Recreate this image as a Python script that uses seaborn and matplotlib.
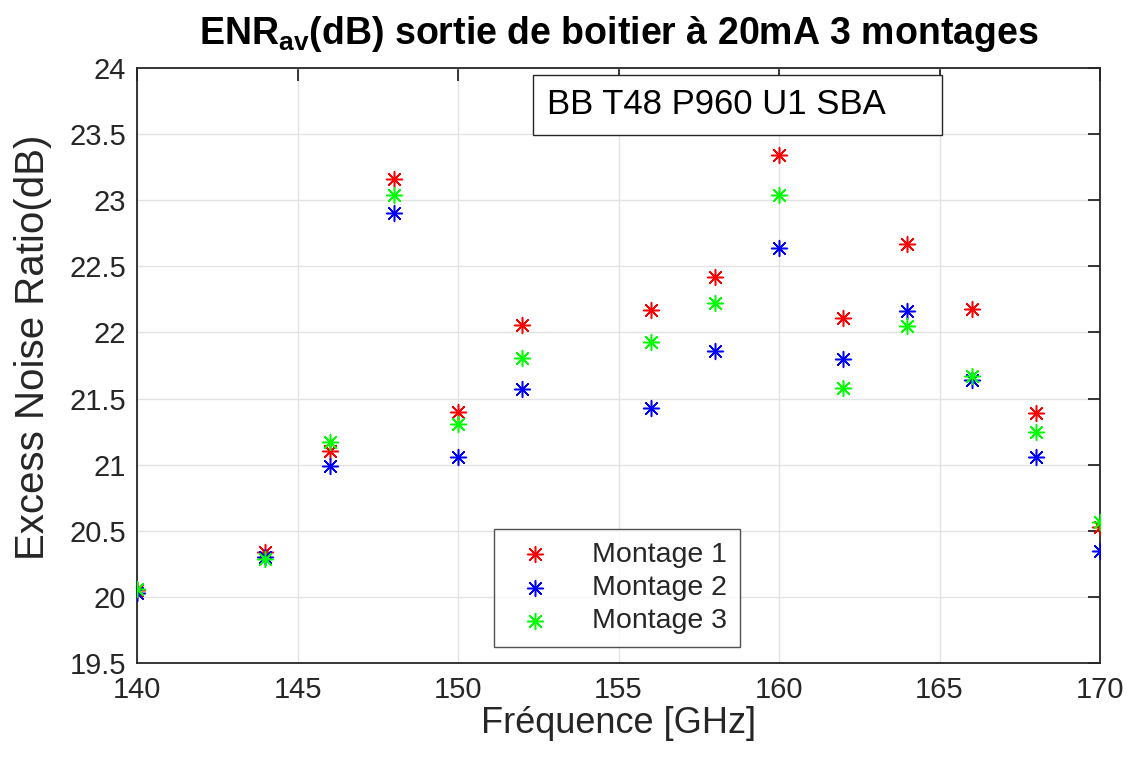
import numpy as np
import pandas as pd
import matplotlib
matplotlib.use('Agg')
import matplotlib.pyplot as plt
from matplotlib.patches import Rectangle
import seaborn as sns

# frequencies (GHz)
freq = [140, 144, 146, 148, 150, 152, 156, 158, 160, 162, 164, 166, 168, 170]
# ENR av (dB) per montage
montage1 = [20.05, 20.34, 21.10, 23.16, 21.40, 22.06, 22.17, 22.42, 23.34, 22.11, 22.67, 22.18, 21.39, 20.53]
montage2 = [20.03, 20.30, 20.99, 22.90, 21.06, 21.57, 21.43, 21.86, 22.64, 21.80, 22.16, 21.64, 21.06, 20.35]
montage3 = [20.06, 20.29, 21.17, 23.04, 21.31, 21.81, 21.93, 22.22, 23.04, 21.58, 22.05, 21.67, 21.25, 20.57]
labels = ['Montage 1', 'Montage 2', 'Montage 3']
colors = ['#ff0000', '#0000ff', '#00ff00']

df = pd.DataFrame({'freq': freq * 3,
                   'enr': montage1 + montage2 + montage3,
                   'montage': [l for l in labels for _ in freq]})

sns.set_style('white')
plt.rcParams['font.family'] = ['Liberation Sans', 'DejaVu Sans']
plt.rcParams['mathtext.fontset'] = 'custom'
plt.rcParams['mathtext.rm'] = 'Liberation Sans:bold'
plt.rcParams['mathtext.bf'] = 'Liberation Sans:bold'

fig = plt.figure(figsize=(11.33, 7.57), dpi=100)
ax = fig.add_axes([137/1133, 1 - 663/757, 963/1133, 595/757])

ast = (8, 2, 0)
for lab, col in zip(labels, colors):
    sub = df[df['montage'] == lab]
    sns.scatterplot(data=sub, x='freq', y='enr', ax=ax, marker=ast, s=130,
                    color=col, edgecolor=col, linewidth=1.1, label=lab, zorder=3)

ax.set_xlim(140, 170)
ax.set_ylim(19.5, 24)
ax.set_xticks(np.arange(140, 171, 5))
ax.set_yticks(np.arange(19.5, 24.01, 0.5))
ax.set_yticklabels(['19.5', '20', '20.5', '21', '21.5', '22', '22.5', '23', '23.5', '24'])
ax.grid(True, color='#e3e3e3', linewidth=1)
ax.set_axisbelow(True)
for s in ax.spines.values():
    s.set_color('#262626')
    s.set_linewidth(1.3)
ax.tick_params(axis='both', direction='in', length=9, width=1.3, top=True, right=True,
               labelsize=21, colors='#262626')
ax.tick_params(axis='x', pad=9)
ax.tick_params(axis='y', pad=8)

ax.set_xlabel('Fréquence [GHz]', fontsize=26, color='#262626', labelpad=2)
ax.set_ylabel('Excess Noise Ratio(dB)', fontsize=29, color='#262626', labelpad=4)
ax.yaxis.set_label_coords(-0.088, 0.53)
ax.set_title(r'ENR$_{\mathrm{av}}$(dB) sortie de boitier à 20mA 3 montages',
             fontsize=27, fontweight='bold', color='black', pad=17)

leg = ax.legend(loc='lower center', bbox_to_anchor=(0.498, 0.027), fontsize=20.5,
                frameon=True, fancybox=False, edgecolor='#262626', markerscale=1.0,
                handletextpad=1.0, borderpad=0.45, labelspacing=0.25, handlelength=2.0,
                borderaxespad=0)
leg.get_frame().set_linewidth(1.0)

ax.add_patch(Rectangle((0.411, 0.887), 0.425, 0.101, transform=ax.transAxes,
                       facecolor='white', edgecolor='#262626', linewidth=1.0, zorder=4))
ax.text(0.426, 0.938, 'BB T48 P960 U1 SBA', transform=ax.transAxes, fontsize=25,
        ha='left', va='center', color='black', zorder=5)

fig.savefig('out.png', dpi=100)
